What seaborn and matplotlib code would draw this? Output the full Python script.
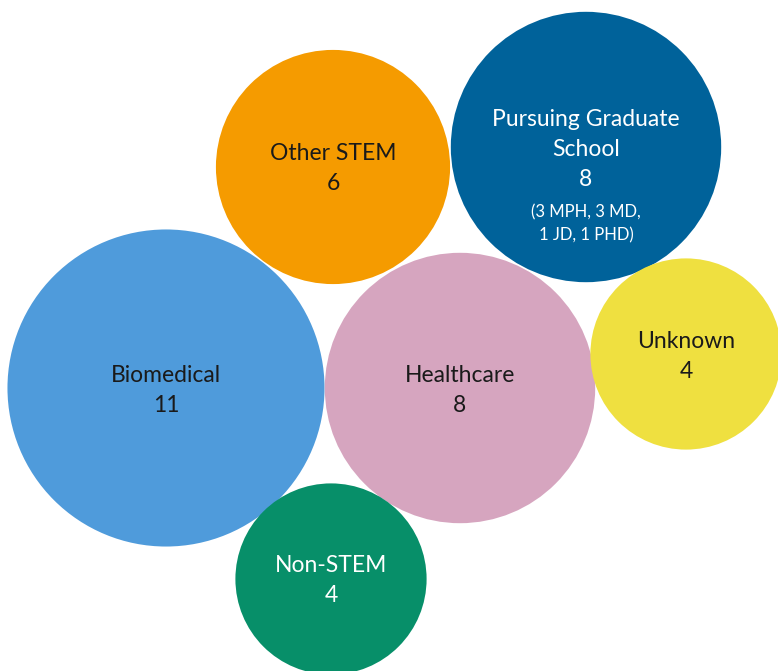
import pandas as pd
import matplotlib.pyplot as plt
import seaborn as sns

# Data
categories = ['Biomedical', 'Healthcare', 'Other STEM', 'Pursuing Graduate School', 'Unknown', 'Non-STEM']
counts = [11, 8, 6, 8, 4, 4]
label_lines = [['Biomedical'], ['Healthcare'], ['Other STEM'],
               ['Pursuing Graduate', 'School'], ['Unknown'], ['Non-STEM']]
note_lines = [[], [], [], ['(3 MPH, 3 MD,', '1 JD, 1 PHD)'], [], []]

# Packed layout (pixel space of the figure)
pos_x = [166, 460, 333, 586, 686, 331]
pos_y = [388, 388, 167, 147, 354, 579]

colors = {
    'Biomedical': '#4f9bdb',
    'Healthcare': '#d6a5bf',
    'Other STEM': '#f59b00',
    'Pursuing Graduate School': '#00629a',
    'Unknown': '#efe040',
    'Non-STEM': '#078f69',
}
text_colors = {
    'Biomedical': '#1a1a1a',
    'Healthcare': '#1a1a1a',
    'Other STEM': '#1a1a1a',
    'Pursuing Graduate School': '#ffffff',
    'Unknown': '#1a1a1a',
    'Non-STEM': '#ffffff',
}

df = pd.DataFrame({'category': categories, 'count': counts, 'x': pos_x, 'y': pos_y})

sns.set_theme(style='white')
plt.rcParams['font.family'] = ['Lato', 'DejaVu Sans']

W, H, DPI = 778, 671, 100
fig = plt.figure(figsize=(W / DPI, H / DPI), dpi=DPI)
ax = fig.add_axes([0, 0, 1, 1])

# bubble area proportional to count: radius ~47.8 px * sqrt(count)
k = (2 * 47.8 * 72 / DPI) ** 2
sns.scatterplot(data=df, x='x', y='y', hue='category', palette=colors,
                size='count', sizes=(k * 4, k * 11), size_norm=(4, 11),
                linewidth=0, legend=False, ax=ax)

ax.set_xlim(0, W)
ax.set_ylim(H, 0)
ax.axis('off')

fs = 16.5
fs_note = 12
for i, r in df.iterrows():
    tc = text_colors[r['category']]
    lines = label_lines[i] + [str(r['count'])]
    notes = note_lines[i]
    if notes:
        y = r['y'] - 28
    else:
        y = r['y'] - 13
    for t in lines:
        ax.text(r['x'], y, t, ha='center', va='center', fontsize=fs, color=tc)
        y += 30
    y += 3
    for t in notes:
        ax.text(r['x'], y, t, ha='center', va='center', fontsize=fs_note, color=tc)
        y += 23

fig.savefig('out.png', dpi=DPI)
